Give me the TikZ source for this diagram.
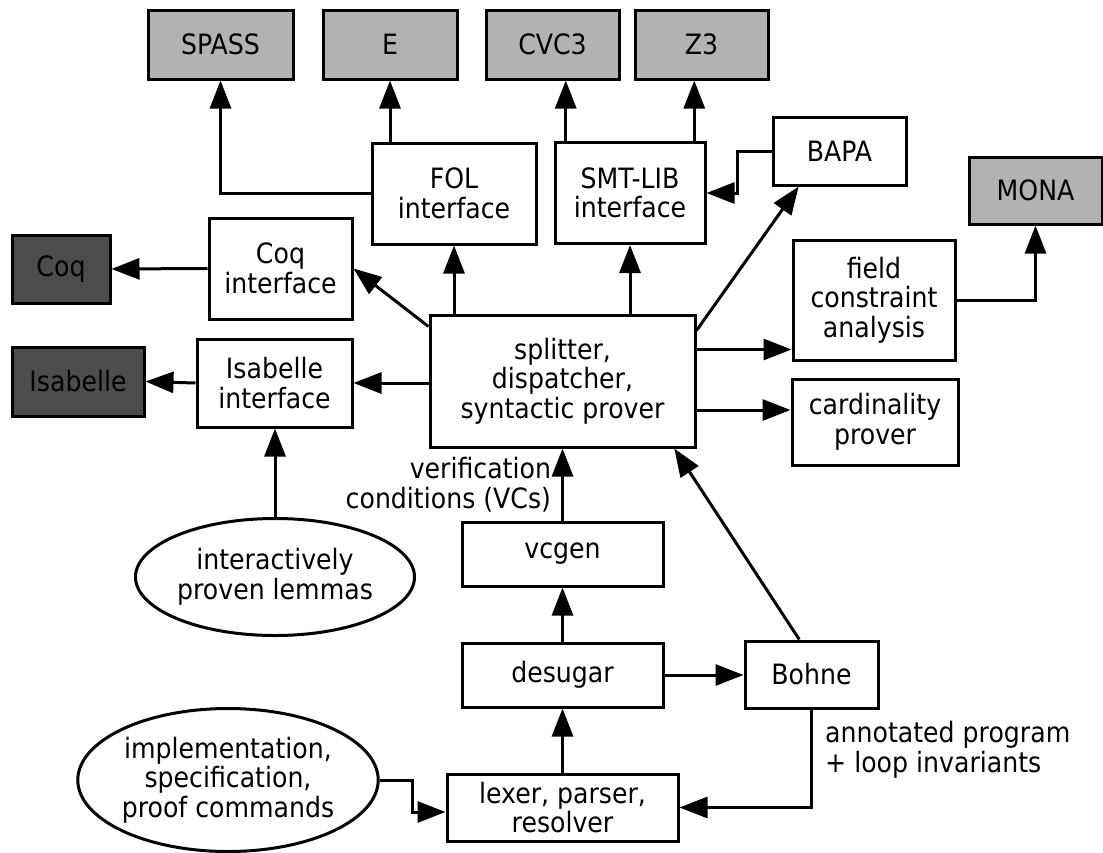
\documentclass[tikz,border=0pt]{standalone}
\usepackage{fontspec}
\setmainfont{DejaVu Sans}[FakeStretch=0.9]
\usetikzlibrary{arrows.meta,shapes.geometric,calc}

\begin{document}
\begin{tikzpicture}[x=1pt,y=-1pt,
		every node/.style={font=\fontsize{28}{29.5}\selectfont,align=center,inner sep=0pt},
		box/.style={draw,line width=3pt,fill=white},
		atp/.style={box,fill=black!30},
		itp/.style={box,fill=black!70},
		oval/.style={draw,ellipse,line width=3pt},
		arr/.style={-{Triangle[length=28pt,width=21pt]},line width=3pt}]
	\useasboundingbox (0,0) rectangle (1103,852);
	%provers (top row)
	\node[atp,minimum width=145pt,minimum height=69pt] (spass) at (220.5,44.5) {SPASS};
	\node[atp,minimum width=134pt,minimum height=69pt] (e) at (390,44.5) {E};
	\node[atp,minimum width=133pt,minimum height=69pt] (cvc) at (552.5,44.5) {CVC3};
	\node[atp,minimum width=133pt,minimum height=69pt] (zthree) at (701.5,44.5) {Z3};
	\node[atp,minimum width=133pt,minimum height=67pt] (mona) at (1035.5,190.5) {MONA};
	\node[itp,minimum width=98pt,minimum height=68pt] (coq) at (61,269) {Coq};
	\node[itp,minimum width=132pt,minimum height=69pt] (isa) at (78,381.5) {Isabelle};
	%interfaces
	\node[box,minimum width=164pt,minimum height=101pt] (fol) at (454,193.5) {FOL\\interface};
	\node[box,minimum width=150pt,minimum height=101pt] (smt) at (630,193) {SMT-LIB\\interface};
	\node[box,minimum width=133pt,minimum height=68pt] (bapa) at (839.5,151) {BAPA};
	\node[box,minimum width=143pt,minimum height=101pt] (coqif) at (280.5,268.5) {Coq\\interface};
	\node[box,minimum width=155pt,minimum height=88pt] (isaif) at (274.5,383) {Isabelle\\interface};
	\node[box,minimum width=162pt,minimum height=120pt] (field) at (874,300) {field\\constraint\\analysis};
	\node[box,minimum width=166pt,minimum height=86pt] (card) at (875,422) {cardinality\\prover};
	%core
	\node[box,minimum width=265pt,minimum height=132pt] (split) at (562.5,381) {splitter,\\dispatcher,\\syntactic prover};
	\node[box,minimum width=201pt,minimum height=64pt] (vcgen) at (562.5,554) {vcgen};
	\node[box,minimum width=201pt,minimum height=64pt] (desugar) at (562.5,675) {desugar};
	\node[box,minimum width=133pt,minimum height=67pt] (bohne) at (811.5,674.5) {Bohne};
	\node[box,minimum width=231pt,minimum height=67pt] (lexer) at (562.5,807.5) {lexer, parser,\\resolver};
	\node[oval,minimum width=279pt,minimum height=117pt] (lemmas) at (275,577) {interactively\\proven lemmas};
	\node[oval,minimum width=296pt,minimum height=143pt] (input) at (228,780) {implementation,\\specification,\\proof commands};
	
	%helper points
	\coordinate (cvcin) at ($(smt.north west)!0.08!(smt.north east)$);
	\coordinate (zin) at ($(smt.north west)!0.92!(smt.north east)$);
	\coordinate (bapain) at ($(bapa.south west)!0.2!(bapa.south east)$);
	\coordinate (fin) at ($(field.south west)+(0,-12)$);
	\coordinate (cin) at ($(card.west)+(0,-12)$);
	\coordinate (bout) at ($(bohne.north west)!0.41!(bohne.north east)$);
	\coordinate (bin) at ($(split.south west)!0.917!(split.south east)$);
	\coordinate (lin) at ($(lexer.west)+(0,4.5)$);
	
	%connectors
	\draw[arr] (fol.west) -| (spass.south);
	\draw[arr] (e.south |- fol.north) -- (e.south);
	\draw[arr] (cvcin) -- (cvcin |- cvc.south);
	\draw[arr] (zin) -- (zin |- zthree.south);
	\draw[arr] (bapa.west) -- ++(-34,0) |- (smt.east);
	\draw[arr] (fol.south |- split.north) -- (fol.south);
	\draw[arr] (smt.south |- split.north) -- (smt.south);
	\draw[arr] ($(split.north west)+(0,13)$) -- (coqif.east);
	\draw[arr] (split.west |- isaif.east) -- (isaif.east);
	\draw[arr] (coqif.west) -- (coq.east);
	\draw[arr] (isaif.west) -- (isa.east);
	\draw[arr] ($(split.north east)+(0,17)$) -- (bapain);
	\draw[arr] (split.east |- fin) -- (fin);
	\draw[arr] (split.east |- cin) -- (cin);
	\draw[arr] (field.east) -| (mona.south);
	\draw[arr] (lemmas.north) -- (lemmas.north |- isaif.south);
	\draw[arr] (vcgen.north) -- (vcgen.north |- split.south)
		node[midway,left=10pt,align=right] {verification\\conditions (VCs)};
	\draw[arr] (bout) -- (bin);
	\draw[arr] (desugar.north) -- (vcgen.south);
	\draw[arr] (desugar.east) -- (desugar.east -| bohne.west);
	\draw[arr] (lexer.north) -- (desugar.south);
	\draw[arr] (bohne.south) |- (lexer.east);
	\draw[arr] (input.east) -- ++(33,0) |- (lin);
	\node[anchor=west,align=left] (annot) at (825,750) {annotated program\\+ loop invariants};
\end{tikzpicture}
\end{document}
